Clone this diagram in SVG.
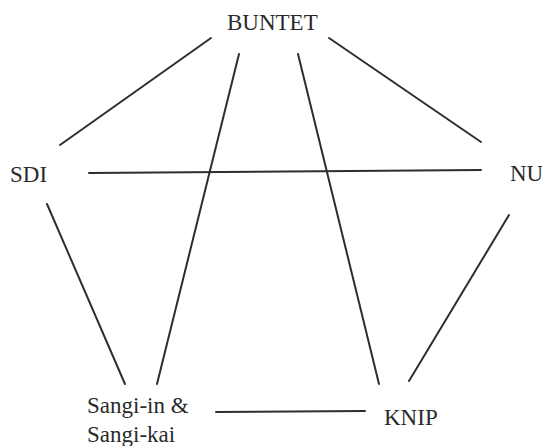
<svg xmlns="http://www.w3.org/2000/svg" width="542" height="446" viewBox="0 0 542 446">
<style>
.lbl{font-family:"Liberation Serif","Times New Roman",serif;font-size:23px;fill:#2a2a2a}
.c line{stroke:#2e2e2e;stroke-width:2;stroke-linecap:round}
</style>
<rect width="542" height="446" fill="#ffffff"/>
<g class="c" id="connectors">
<line x1="211" y1="38" x2="60" y2="145"/>
<line x1="329" y1="38" x2="481" y2="142"/>
<line x1="89" y1="173" x2="481" y2="170"/>
<line x1="239" y1="54" x2="157" y2="384"/>
<line x1="298" y1="54" x2="379" y2="384"/>
<line x1="47" y1="204" x2="125" y2="384"/>
<line x1="509" y1="215" x2="409" y2="381"/>
<line x1="216" y1="412" x2="365" y2="411"/>
</g>
<g id="buntet"><text class="lbl" x="227" y="30">BUNTET</text></g>
<g id="sdi"><text class="lbl" x="10" y="182">SDI</text></g>
<g id="nu"><text class="lbl" x="510" y="181">NU</text></g>
<g id="sangi"><text class="lbl" x="87" y="413">Sangi-in &amp;</text><text class="lbl" x="87" y="442">Sangi-kai</text></g>
<g id="knip"><text class="lbl" x="384" y="425">KNIP</text></g>
</svg>
